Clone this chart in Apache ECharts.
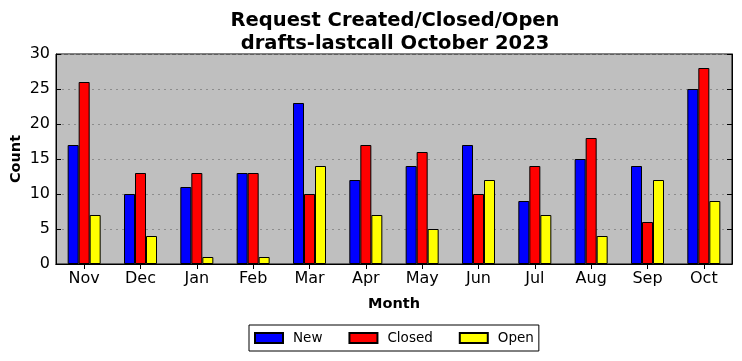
<!DOCTYPE html>
<html><head><meta charset="utf-8">
<script src="https://cdn.jsdelivr.net/npm/echarts@6/dist/echarts.min.js"></script>
<style>html,body{margin:0;padding:0;background:#fff}#c{width:742px;height:361px}</style>
</head><body><div id="c"></div>
<script>
const months = ['Nov','Dec','Jan','Feb','Mar','Apr','May','Jun','Jul','Aug','Sep','Oct'];
const newVals = [17,10,11,13,23,12,14,17,9,15,14,25];
const closedVals = [26,13,13,13,10,17,16,10,14,18,6,28];
const openVals = [7,4,1,1,14,7,5,12,7,4,12,9];
const yTicks = [0,5,10,15,20,25,30];

const font = 'DejaVu Sans';
const chart = echarts.init(document.getElementById('c'), null, {renderer:'canvas'});
const barStyle = c => ({color:c, borderColor:'#000', borderWidth:1});
chart.setOption({
  animation:false,
  title:{
    text:'Request Created/Closed/Open\ndrafts-lastcall October 2023',
    left:390, textAlign:'center', top:4,
    textStyle:{fontFamily:font, fontSize:19.5, fontWeight:'bold', color:'#000', lineHeight:23}
  },
  grid:{left:56, right:10, top:54, bottom:97, show:true, backgroundColor:'#bfbfbf', borderColor:'#000', borderWidth:1, containLabel:false, outerBoundsMode:'none'},
  legend:{
    bottom:10, left:249,
    data:['New','Closed','Open'],
    icon:'rect',
    itemWidth:28, itemHeight:10, itemGap:26,
    borderColor:'#000', borderWidth:1, borderRadius:0, backgroundColor:'#fff',
    padding:[6,5,6,5],
    textStyle:{fontFamily:font, fontSize:13.5, color:'#000', padding:[0,0,0,5]}
  },
  xAxis:[{
    type:'category', data:months, position:'bottom',
    name:'Month', nameLocation:'middle', nameGap:33,
    nameTextStyle:{fontFamily:font, fontSize:14.5, fontWeight:'bold', color:'#000'},
    axisLine:{show:true, lineStyle:{color:'#000'}},
    axisTick:{show:true, inside:true, alignWithLabel:true, length:5, lineStyle:{color:'#000'}},
    axisLabel:{fontFamily:font, fontSize:16, color:'#000', margin:7},
    splitLine:{show:false}
  },{
    type:'category', data:months, position:'top',
    axisLine:{show:true, lineStyle:{color:'#000'}},
    axisTick:{show:true, inside:true, alignWithLabel:true, length:5, lineStyle:{color:'#000'}},
    axisLabel:{show:false}
  }],
  yAxis:[{
    type:'value', min:0, max:30, interval:5, position:'left',
    name:'Count', nameLocation:'middle', nameGap:32, nameRotate:90, nameMoveOverlap:false,
    nameTextStyle:{fontFamily:font, fontSize:14.5, fontWeight:'bold', color:'#000'},
    axisLine:{show:true, lineStyle:{color:'#000'}},
    axisTick:{show:true, inside:true, length:5, lineStyle:{color:'#000'}},
    axisLabel:{fontFamily:font, fontSize:16, color:'#000', margin:6, formatter:v=>yTicks.includes(v)?String(v):''},
    splitLine:{show:true, lineStyle:{color:'#8c8c8c', type:[2,4], width:1}}
  },{
    type:'value', min:0, max:30, interval:5, position:'right',
    axisLine:{show:true, lineStyle:{color:'#000'}},
    axisTick:{show:true, inside:true, length:5, lineStyle:{color:'#000'}},
    axisLabel:{show:false}, splitLine:{show:false}
  }],
  series:[
    {name:'New', type:'bar', data:newVals, barWidth:11, barGap:'0%', itemStyle:barStyle('#0000ff')},
    {name:'Closed', type:'bar', data:closedVals, barWidth:11, barGap:'0%', itemStyle:barStyle('#ff0000')},
    {name:'Open', type:'bar', data:openVals, barWidth:11, barGap:'0%', itemStyle:barStyle('#ffff00')}
  ]
});
</script></body></html>
